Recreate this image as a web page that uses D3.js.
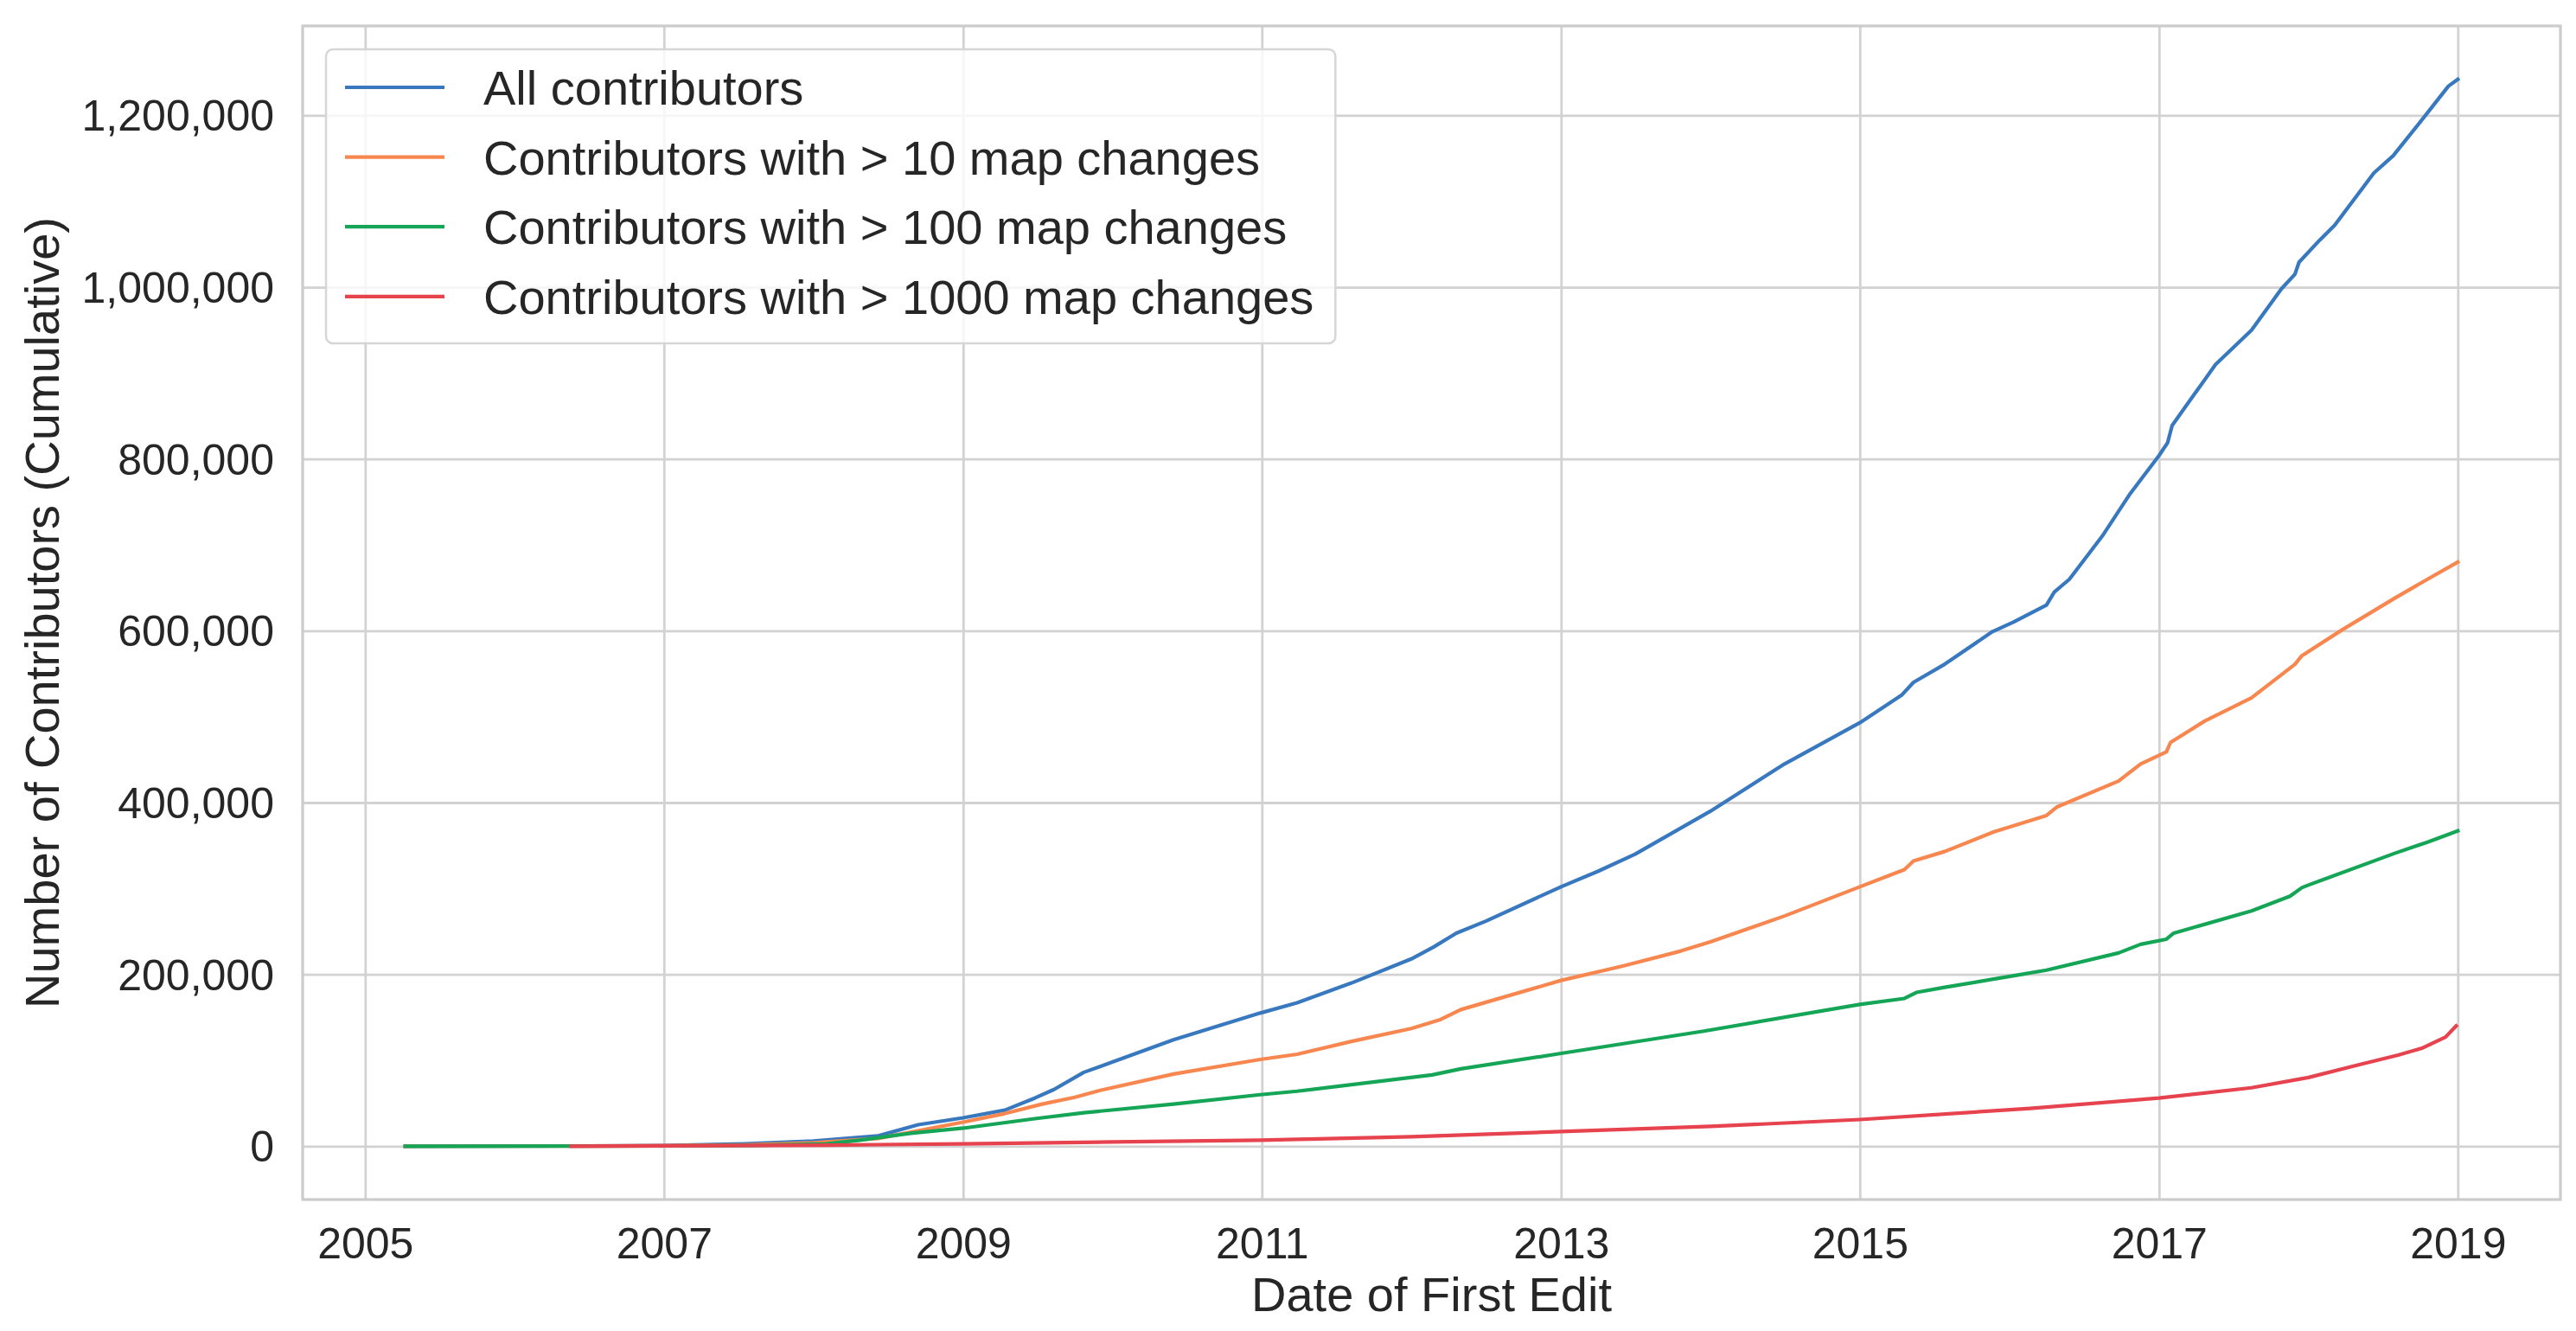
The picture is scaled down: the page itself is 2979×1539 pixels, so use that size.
<!DOCTYPE html>
<html>
<head>
<meta charset="utf-8">
<script src="https://cdnjs.cloudflare.com/ajax/libs/d3/7.8.5/d3.min.js"></script>
<style>
  body { margin: 0; background: #fff; }
  svg text { font-family: "Liberation Sans", Arial, sans-serif; fill: #262626; }
</style>
</head>
<body>
<div id="graph"></div>
<script>
'use strict';

// cumulative contributor counts by date of first edit
const allContributors = [
  ['2005-04-09', 0], ['2006-07-01', 300], ['2007-01-01', 800], ['2007-07-16', 2700],
  ['2008-01-01', 6000], ['2008-06-07', 12000], ['2008-09-13', 25000], ['2009-01-01', 33000],
  ['2009-04-13', 42000], ['2009-06-25', 56000], ['2009-08-11', 66000], ['2009-10-23', 86000],
  ['2009-12-20', 96000], ['2010-05-30', 124000], ['2010-12-28', 155000], ['2011-03-28', 167000],
  ['2011-08-08', 190000], ['2012-01-01', 218000], ['2012-02-25', 232000], ['2012-04-20', 248000],
  ['2012-07-01', 262000], ['2013-01-01', 302000], ['2013-04-01', 320000], ['2013-07-01', 340000],
  ['2014-01-01', 390000], ['2014-07-01', 445000], ['2015-01-01', 493000], ['2015-04-13', 525000],
  ['2015-05-12', 540000], ['2015-07-27', 561000], ['2015-11-21', 599000], ['2016-01-11', 610000],
  ['2016-04-01', 630000], ['2016-04-20', 645000], ['2016-05-27', 660000], ['2016-08-15', 710000],
  ['2016-10-23', 760000], ['2017-01-01', 804000], ['2017-01-22', 819000], ['2017-02-02', 839000],
  ['2017-05-19', 910000], ['2017-08-15', 950000], ['2017-10-27', 998000], ['2017-11-29', 1015000],
  ['2017-12-09', 1029000], ['2018-01-29', 1055000], ['2018-03-06', 1072000], ['2018-06-10', 1133000],
  ['2018-07-27', 1153000], ['2018-10-19', 1203000], ['2018-12-09', 1234000], ['2019-01-01', 1242000]
];

const over10Changes = [
  ['2005-04-09', 0], ['2007-01-01', 500], ['2007-07-16', 1500], ['2008-01-01', 4000],
  ['2008-06-07', 9000], ['2009-01-01', 28000], ['2009-04-13', 38000], ['2009-07-13', 49000],
  ['2009-10-01', 57000], ['2009-12-02', 65000], ['2010-05-30', 84000], ['2010-12-28', 101000],
  ['2011-03-28', 107000], ['2011-08-08', 122000], ['2012-01-01', 137000], ['2012-03-10', 147000],
  ['2012-05-01', 159000], ['2013-01-01', 193000], ['2013-06-03', 210000], ['2013-10-19', 227000],
  ['2014-01-01', 238000], ['2014-07-01', 268000], ['2015-01-01', 302000], ['2015-04-20', 322000],
  ['2015-05-12', 332000], ['2015-07-27', 343000], ['2015-11-25', 366000], ['2016-04-01', 385000],
  ['2016-04-27', 395000], ['2016-09-24', 425000], ['2016-11-17', 445000], ['2017-01-19', 459000],
  ['2017-01-29', 470000], ['2017-04-23', 495000], ['2017-08-15', 522000], ['2017-11-29', 561000],
  ['2017-12-16', 571000], ['2018-03-24', 601000], ['2018-07-31', 638000], ['2018-10-19', 660000],
  ['2019-01-01', 680000]
];

const over100Changes = [
  ['2005-04-09', 0], ['2007-01-01', 300], ['2007-08-08', 1000], ['2008-02-02', 2700],
  ['2008-04-23', 7000], ['2008-08-26', 15000], ['2009-01-01', 21000], ['2009-06-25', 32000],
  ['2009-10-23', 39000], ['2010-05-30', 49000], ['2010-12-28', 60000], ['2011-03-28', 64000],
  ['2012-02-21', 83000], ['2012-05-01', 90000], ['2013-01-01', 108000], ['2013-12-16', 134000],
  ['2015-01-01', 165000], ['2015-04-20', 172000], ['2015-05-19', 179000], ['2015-07-27', 185000],
  ['2016-01-19', 199000], ['2016-04-01', 205000], ['2016-09-24', 225000], ['2016-11-17', 235000],
  ['2017-01-19', 241000], ['2017-02-06', 248000], ['2017-08-15', 274000], ['2017-11-17', 291000],
  ['2017-12-16', 301000], ['2018-01-01', 304000], ['2018-07-31', 341000], ['2018-10-19', 354000],
  ['2019-01-01', 367000]
];

const over1000Changes = [
  ['2006-05-19', 0], ['2008-02-02', 1300], ['2009-01-01', 2700], ['2010-01-01', 5000],
  ['2010-12-28', 7000], ['2011-03-28', 8000], ['2012-01-01', 11000], ['2013-01-01', 17000],
  ['2014-01-01', 23000], ['2015-01-01', 31000], ['2016-02-21', 44000], ['2017-01-01', 56000],
  ['2017-08-15', 68000], ['2018-01-01', 80000], ['2018-04-27', 94000], ['2018-08-08', 106000],
  ['2018-10-05', 114000], ['2018-12-02', 127000], ['2018-12-28', 140000]
];

const seriesNames = [
  'All contributors',
  'Contributors with > 10 map changes',
  'Contributors with > 100 map changes',
  'Contributors with > 1000 map changes'
];
const seriesColors = ['#3778bf', '#f8864f', '#14a557', '#e6434f'];

const yTicks = [0, 200000, 400000, 600000, 800000, 1000000, 1200000];
const xTickYears = [2005, 2007, 2009, 2011, 2013, 2015, 2017, 2019];

var W = 2979, H = 1539,
    padl = 350, padt = 30, padr = 18, padb = 152,
    w = W - padl - padr,
    h = H - padt - padb,
    lineW = 4.2,
    parse = d3.utcParse('%Y-%m-%d');

var series = [allContributors, over10Changes, over100Changes, over1000Changes].map((rows, i) => ({
  name: seriesNames[i],
  color: seriesColors[i],
  values: rows.map((r) => ({ date: parse(r[0]), count: r[1] }))
}));

var all = series.flatMap((s) => s.values);

// matplotlib style 5% margins on both axes
var xExt = d3.extent(all, (d) => d.date),
    xPad = (xExt[1] - xExt[0]) * 0.05,
    yMax = d3.max(all, (d) => d.count),
    yPad = yMax * 0.05;

var x = d3.scaleUtc()
    .domain([new Date(+xExt[0] - xPad), new Date(+xExt[1] + xPad)])
    .range([0, w]);
var y = d3.scaleLinear()
    .domain([-yPad, yMax + yPad])
    .range([h, 0]);

var svg = d3.select('#graph')
  .append('svg')
    .attr('width', W)
    .attr('height', H);

var vis = svg.append('g')
    .attr('transform', 'translate(' + padl + ',' + padt + ')');

// grid + ticks
var xAxis = d3.axisBottom(x)
    .tickValues(xTickYears.map((yr) => new Date(Date.UTC(yr, 0, 1))))
    .tickFormat(d3.utcFormat('%Y'))
    .tickSize(-h)
    .tickPadding(0);

var yAxis = d3.axisLeft(y)
    .tickValues(yTicks)
    .tickFormat(d3.format(','))
    .tickSize(-w)
    .tickPadding(33);

var gx = vis.append('g')
    .attr('class', 'x axis')
    .attr('transform', 'translate(0,' + h + ')')
    .call(xAxis);
gx.selectAll('text')
    .attr('y', 32)
    .attr('dy', '0.71em');

var gy = vis.append('g')
    .attr('class', 'y axis')
    .call(yAxis);
gy.selectAll('text').attr('dy', '0.35em');

vis.selectAll('.axis .domain').remove();
vis.selectAll('.axis line')
    .attr('stroke', '#d2d2d2')
    .attr('stroke-width', 2.8);
vis.selectAll('.axis text')
    .attr('fill', '#262626')
    .style('font-size', '50px');

// frame
vis.append('rect')
    .attr('width', w)
    .attr('height', h)
    .attr('fill', 'none')
    .attr('stroke', '#cccccc')
    .attr('stroke-width', 3.2);

// lines
var line = d3.line()
    .x((d) => x(d.date))
    .y((d) => y(d.count));

vis.selectAll('path.series')
  .data(series)
  .enter().append('path')
    .attr('class', 'series')
    .attr('fill', 'none')
    .attr('stroke', (d) => d.color)
    .attr('stroke-width', lineW)
    .attr('stroke-linejoin', 'round')
    .attr('stroke-linecap', 'square')
    .attr('d', (d) => line(d.values));

// axis labels
svg.append('text')
    .attr('x', padl + w / 2)
    .attr('y', 1516)
    .attr('text-anchor', 'middle')
    .style('font-size', '56px')
    .text('Date of First Edit');

svg.append('text')
    .attr('transform', 'translate(68,' + (padt + h / 2) + ') rotate(-90)')
    .attr('text-anchor', 'middle')
    .style('font-size', '56px')
    .text('Number of Contributors (Cumulative)');

// legend
var lg = svg.append('g')
    .attr('transform', 'translate(377,57)');

var frame = lg.append('rect')
    .attr('height', 340)
    .attr('rx', 8)
    .attr('fill', '#ffffff')
    .attr('fill-opacity', 0.8)
    .attr('stroke', '#d6d6d6')
    .attr('stroke-width', 2.5);

var rows = lg.selectAll('g.row')
  .data(series)
  .enter().append('g')
    .attr('class', 'row')
    .attr('transform', (d, i) => 'translate(0,' + (44 + i * 80.6) + ')');

rows.append('line')
    .attr('x1', 22)
    .attr('x2', 137)
    .attr('stroke', (d) => d.color)
    .attr('stroke-width', lineW);

rows.append('text')
    .attr('x', 182)
    .attr('dy', '0.36em')
    .style('font-size', '56px')
    .text((d) => d.name);

var textRight = d3.max(rows.selectAll('text').nodes(), (n) => 182 + n.getComputedTextLength());
frame.attr('width', textRight + 25);
</script>
</body>
</html>
